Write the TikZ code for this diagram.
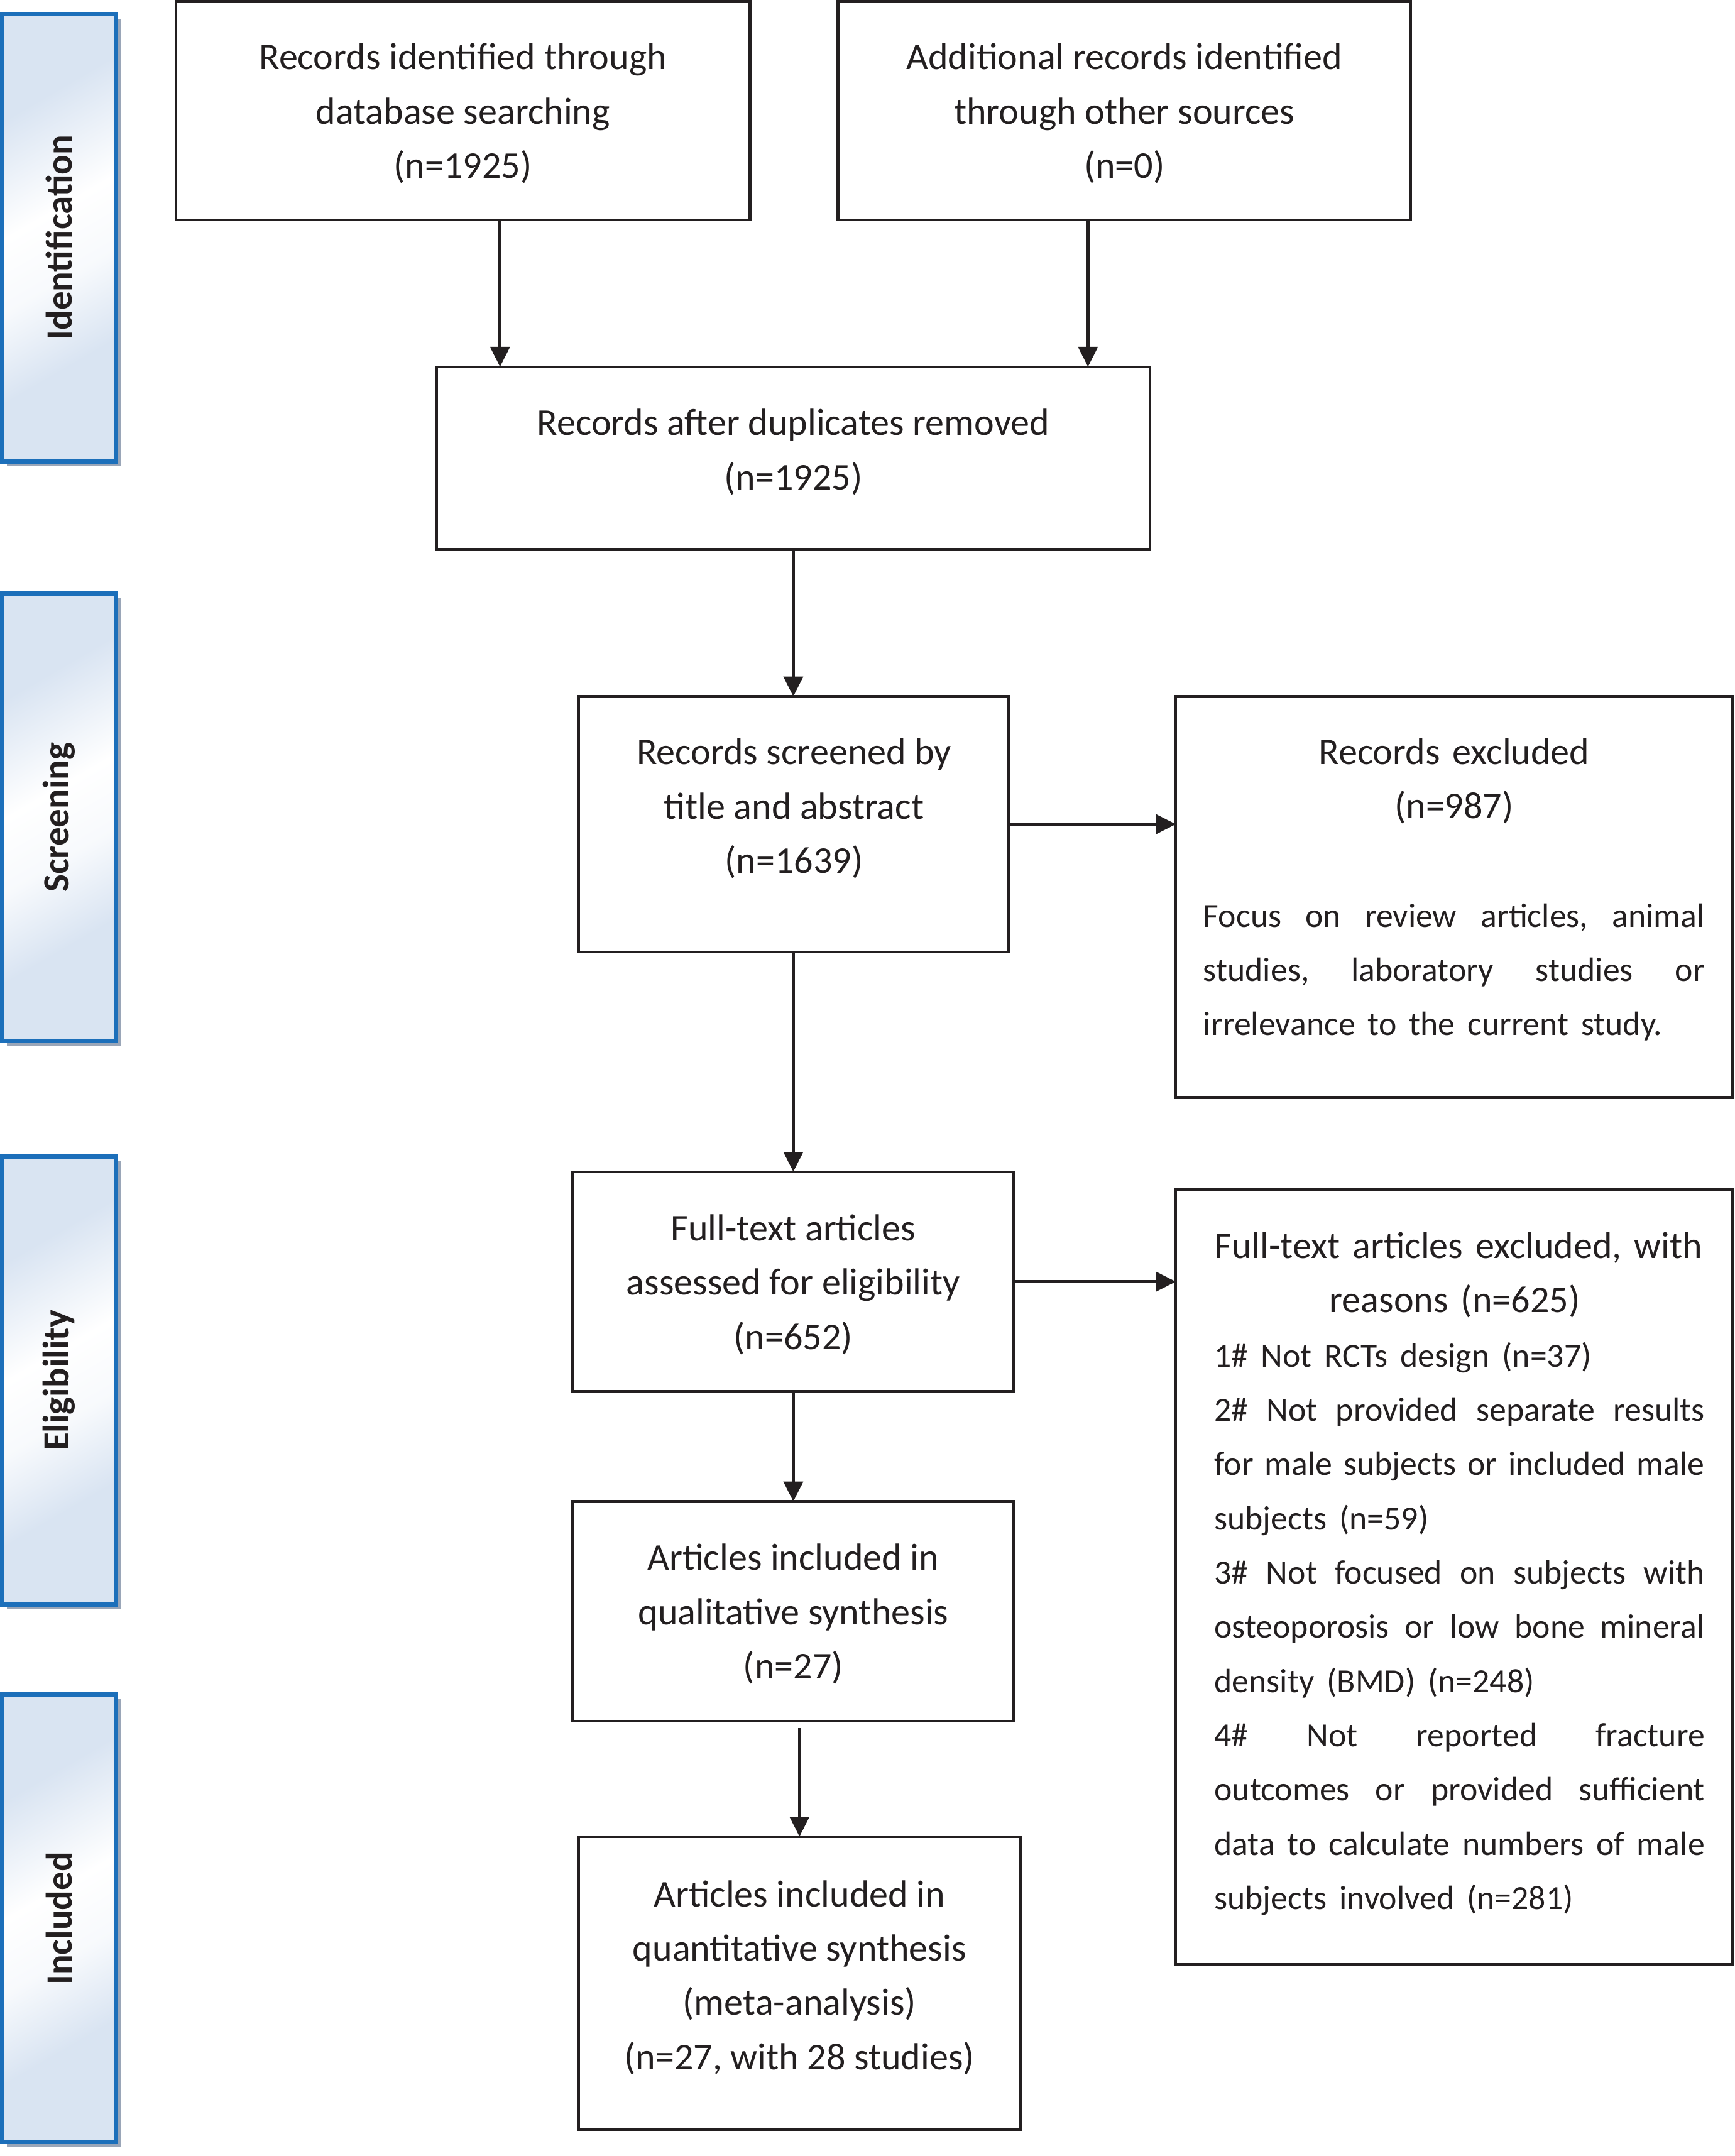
\documentclass[tikz,border=0pt]{standalone}
\usepackage{fontspec}
\usepackage{graphicx}
\setmainfont{Carlito}
\usetikzlibrary{arrows.meta,shadows}
\definecolor{linec}{HTML}{231F20}
\definecolor{sbblue}{HTML}{1C6FBA}
\definecolor{sbfill}{HTML}{D9E4F2}
\definecolor{sbshadow}{HTML}{9AA6B8}
\colorlet{sbmid}{white!80!sbfill}
\pgfdeclarehorizontalshading{sbshade}{100bp}{color(0bp)=(sbfill); color(30bp)=(sbfill); color(46bp)=(white); color(56bp)=(sbmid); color(68bp)=(sbfill); color(100bp)=(sbfill)}
\newcommand{\bigf}{\fontsize{27.5}{39.5}\selectfont}
\newcommand{\smf}{\fontsize{24.6}{39.5}\selectfont}
\newcommand{\jl}[2]{\leavevmode\hbox to #1{#2}}
\tikzset{
  box/.style={draw=linec, line width=2pt, inner sep=0pt, outer sep=0pt},
  txt/.style={align=center, font=\bigf, text=linec, inner sep=0pt},
  ptxt/.style={align=left, font=\bigf, text=linec, inner sep=0pt},
  arr/.style={draw=linec, line width=2.3pt, -{Triangle[length=14.5pt,width=14pt]}},
  sidebar/.style={draw=sbblue, line width=3pt, shading=sbshade, shading angle=-59.8,
    general shadow={fill=sbshadow, shadow xshift=3.5pt, shadow yshift=-3.5pt},
    inner sep=0pt, outer sep=0pt, minimum width=83pt, minimum height=326pt,
    font=\fontsize{27}{32}\selectfont\bfseries, text=linec}
}
\begin{document}
\begin{tikzpicture}[x=1pt,y=-1pt]
\useasboundingbox (0,0) rectangle (1263,1569.5);
% side bars
\node[sidebar] (s1) at (43,173) {\rotatebox{90}{Identification}};
\node[sidebar] (s2) at (43,595) {\rotatebox{90}{Screening}};
\node[sidebar] (s3) at (43,1005) {\rotatebox{90}{Eligibility}};
\node[sidebar] (s4) at (43,1396.5) {\rotatebox{90}{Included}};
% boxes
\node[box, minimum width=418pt, minimum height=159pt] (A) at (337,80.5) {};
\node[box, minimum width=417pt, minimum height=159pt] (B) at (818.5,80.5) {};
\node[box, minimum width=519pt, minimum height=133pt] (C) at (577.5,333.5) {};
\node[box, minimum width=313pt, minimum height=186pt] (D) at (577.5,600) {};
\node[box, minimum width=405pt, minimum height=292pt] (E) at (1058.5,653) {};
\node[box, minimum width=321pt, minimum height=160pt] (F) at (577.5,933) {};
\node[box, minimum width=405pt, minimum height=564pt] (G) at (1058.5,1148) {};
\node[box, minimum width=321pt, minimum height=160pt] (H) at (577.5,1173) {};
\node[box, minimum width=322pt, minimum height=213pt] (I) at (582,1443.5) {};
% texts
\node[txt] (tA) at (337,82.5) {Records identified through\\database searching\\(n=1925)};
\node[txt] (tB) at (818.5,82.5) {Additional records identified\\through other sources\\(n=0)};
\node[txt] (tC) at (577.5,329) {Records after duplicates removed\\(n=1925)};
\node[txt] (tD) at (578,588.5) {Records screened by\\title and abstract\\(n=1639)};
\node[txt] (tF) at (577.5,935) {Full-text articles\\assessed for eligibility\\(n=652)};
\node[txt] (tH) at (577.5,1175) {Articles included in\\qualitative synthesis\\(n=27)};
\node[txt] (tI) at (582,1439.5) {Articles included in\\quantitative synthesis\\(meta-analysis)\\(n=27, with 28 studies)};
\node[ptxt, text width=365pt] (tE) at (1058.5,647.5) {\makebox[365pt]{Records excluded}\\
\makebox[365pt]{(n=987)}\\[39.5pt]
\smf\jl{365pt}{Focus\hfill on\hfill review\hfill articles,\hfill animal}\\
\jl{365pt}{studies,\hfill laboratory\hfill studies\hfill or}\\
irrelevance to the current study.};
\node[ptxt, text width=357pt] (tG) at (1062.5,1145.5) {Full-text articles excluded, with\\
\makebox[350pt]{reasons (n=625)}\\
\smf 1\# Not RCTs design (n=37)\\
\jl{357pt}{2\#\hfill Not\hfill provided\hfill separate\hfill results}\\
\jl{357pt}{for\hfill male\hfill subjects\hfill or\hfill included\hfill male}\\
subjects (n=59)\\
\jl{357pt}{3\#\hfill Not\hfill focused\hfill on\hfill subjects\hfill with}\\
\jl{357pt}{osteoporosis\hfill or\hfill low\hfill bone\hfill mineral}\\
density (BMD) (n=248)\\
\jl{357pt}{4\#\hfill Not\hfill reported\hfill fracture}\\
\jl{357pt}{outcomes\hfill or\hfill provided\hfill sufficient}\\
\jl{357pt}{data\hfill to\hfill calculate\hfill numbers\hfill of\hfill male}\\
subjects involved (n=281)};
% connectors
\draw[arr] ([xshift=27pt]A.south) -- ([xshift=27pt]A.south |- C.north);
\draw[arr] ([xshift=-26.5pt]B.south) -- ([xshift=-26.5pt]B.south |- C.north);
\draw[arr] (C.south) -- (D.north);
\draw[arr] (D.east) -- (D.east -| E.west);
\draw[arr] (D.south) -- (F.north);
\draw[arr] (F.east) -- (F.east -| G.west);
\draw[arr] (F.south) -- (H.north);
\draw[arr] ([yshift=-5pt]I.north |- H.south) -- (I.north);
\end{tikzpicture}
\end{document}
